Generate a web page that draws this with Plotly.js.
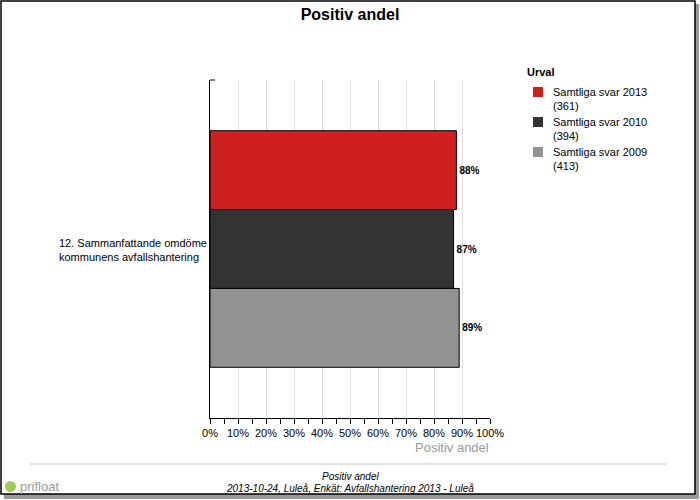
<!DOCTYPE html>
<html>
<head>
<meta charset="utf-8">
<script src="https://cdn.plot.ly/plotly-3.0.1.min.js"></script>
<style>
html,body{margin:0;padding:0;background:#fff;}
#chart{width:700px;height:500px;}
</style>
</head>
<body>
<div id="chart"></div>
<script>
// ---- data ----
const categories = ["12. Sammanfattande omdöme<br>kommunens avfallshantering"];
const seriesNames = ["Samtliga svar 2013<br>(361)", "Samtliga svar 2010<br>(394)", "Samtliga svar 2009<br>(413)"];
const values2013 = [88];
const values2010 = [87];
const values2009 = [89];
const xTickValues = [0, 10, 20, 30, 40, 50, 60, 70, 80, 90, 100];
const xTickLabels = ["0%", "10%", "20%", "30%", "40%", "50%", "60%", "70%", "80%", "90%", "100%"];
const chartTitle = "Positiv andel";
const axisTitle = "Positiv andel";
const legendTitle = "Urval";
const footerLine1 = "Positiv andel";
const footerLine2 = "2013-10-24, Luleå, Enkät: Avfallshantering 2013 - Luleå";
const logoText = "prifloat";

// ---- layout helpers (pixel -> paper) ----
const W = 700, H = 500, ML = 210, MR = 210, MT = 80, MB = 82;
const PW = W - ML - MR, PH = H - MT - MB;
const px = x => (x - ML) / PW;
const py = y => (H - MB - y) / PH;

const colors = ["#ce201e", "#333333", "#929292"];
const seriesValues = [values2013, values2010, values2009];
const FONT = "Liberation Sans, Arial, sans-serif";

const traces = seriesValues.map((vals, i) => ({
  type: "bar",
  orientation: "h",
  name: seriesNames[i],
  y: categories,
  x: vals,
  marker: {color: colors[i], line: {color: "#000", width: 1}},
  text: vals.map(v => v + "%"),
  textposition: "outside",
  textfont: {family: FONT, size: 10, color: "#000", weight: "bold"},
  cliponaxis: false,
  hoverinfo: "skip",
  showlegend: false
}));

// custom legend (entries built from the series arrays)
const legendShapes = [];
const legendAnns = [{
  text: "<b>" + legendTitle + "</b>", xref: "paper", yref: "paper", x: px(525), y: py(72),
  xanchor: "left", yanchor: "middle", showarrow: false, font: {family: FONT, size: 11, color: "#000"}
}];
seriesNames.forEach((name, i) => {
  const top = 87 + i * 30;
  legendShapes.push({type: "rect", xref: "paper", yref: "paper",
    x0: px(533), x1: px(543), y0: py(top), y1: py(top + 10),
    fillcolor: colors[i], line: {width: 0}});
  legendAnns.push({text: name, xref: "paper", yref: "paper", x: px(551), y: py(top - 3),
    xanchor: "left", yanchor: "top", align: "left", showarrow: false,
    font: {family: FONT, size: 11, color: "#000"}});
});

const layout = {
  width: W, height: H,
  margin: {l: ML, r: MR, t: MT, b: MB},
  paper_bgcolor: "#ffffff",
  plot_bgcolor: "rgba(0,0,0,0)",
  font: {family: FONT, size: 11, color: "#000"},
  barmode: "group",
  bargap: 0.3,
  bargroupgap: 0,
  showlegend: false,
  title: {
    text: "<b>" + chartTitle + "</b>",
    font: {family: FONT, size: 16, color: "#000"},
    x: 0.5, xref: "container", xanchor: "center",
    y: 1 - 14 / H, yref: "container", yanchor: "middle"
  },
  xaxis: {
    range: [0, 100],
    tickmode: "array",
    tickvals: xTickValues,
    ticktext: xTickLabels,
    ticks: "outside", ticklen: 5, tickcolor: "#000", tickwidth: 1,
    minor: {dtick: 5, tick0: 0, ticks: "outside", ticklen: 5, tickcolor: "#000", showgrid: false},
    showgrid: true, gridcolor: "#dddddd", gridwidth: 1,
    showline: true, linecolor: "#000", linewidth: 1,
    zeroline: false,
    tickfont: {family: FONT, size: 11, color: "#000"},
    fixedrange: true
  },
  yaxis: {
    type: "category",
    autorange: "reversed",
    showticklabels: false,
    ticks: "",
    showgrid: false,
    showline: true, linecolor: "#000", linewidth: 1,
    zeroline: false,
    fixedrange: true
  },
  shapes: [
    {type: "rect", xref: "paper", yref: "paper", x0: px(4), x1: px(699), y0: py(4), y1: py(499),
     fillcolor: "#9a9a9a", line: {width: 0}, layer: "below"},
    {type: "rect", xref: "paper", yref: "paper", x0: px(1), x1: px(695), y0: py(1), y1: py(494),
     fillcolor: "#ffffff", line: {color: "#000", width: 1.5}, layer: "below"},
    {type: "line", xref: "paper", yref: "paper", x0: 0, x1: px(215), y0: 1, y1: 1,
     line: {color: "#000", width: 1}},
    {type: "line", xref: "paper", yref: "paper", x0: px(30), x1: px(667), y0: py(464), y1: py(464),
     line: {color: "#c0c0c0", width: 1}},
    {type: "circle", xref: "paper", yref: "paper", x0: px(5), x1: px(16), y0: py(481), y1: py(492),
     fillcolor: "#9ccc5a", line: {width: 0}}
  ].concat(legendShapes),
  annotations: [
    {text: categories[0], xref: "paper", yref: "paper", x: px(57), y: py(250), xanchor: "left", yanchor: "middle",
     align: "left", showarrow: false, font: {family: FONT, size: 11, color: "#000"}},
    {text: axisTitle, xref: "paper", yref: "paper", x: px(491), y: py(447), xanchor: "right", yanchor: "middle",
     showarrow: false, font: {family: FONT, size: 13, color: "#999999"}},
    {text: "<i>" + footerLine1 + "</i>", xref: "paper", yref: "paper", x: px(350), y: py(476), xanchor: "center", yanchor: "middle",
     showarrow: false, font: {family: FONT, size: 10, color: "#000"}},
    {text: "<i>" + footerLine2 + "</i>", xref: "paper", yref: "paper", x: px(350), y: py(488), xanchor: "center", yanchor: "middle",
     showarrow: false, font: {family: FONT, size: 10, color: "#000"}},
    {text: logoText, xref: "paper", yref: "paper", x: px(18), y: py(486), xanchor: "left", yanchor: "middle",
     showarrow: false, font: {family: FONT, size: 13, color: "#9a9a9a"}}
  ].concat(legendAnns)
};

Plotly.newPlot("chart", traces, layout, {displayModeBar: false, staticPlot: true});
</script>
</body>
</html>
